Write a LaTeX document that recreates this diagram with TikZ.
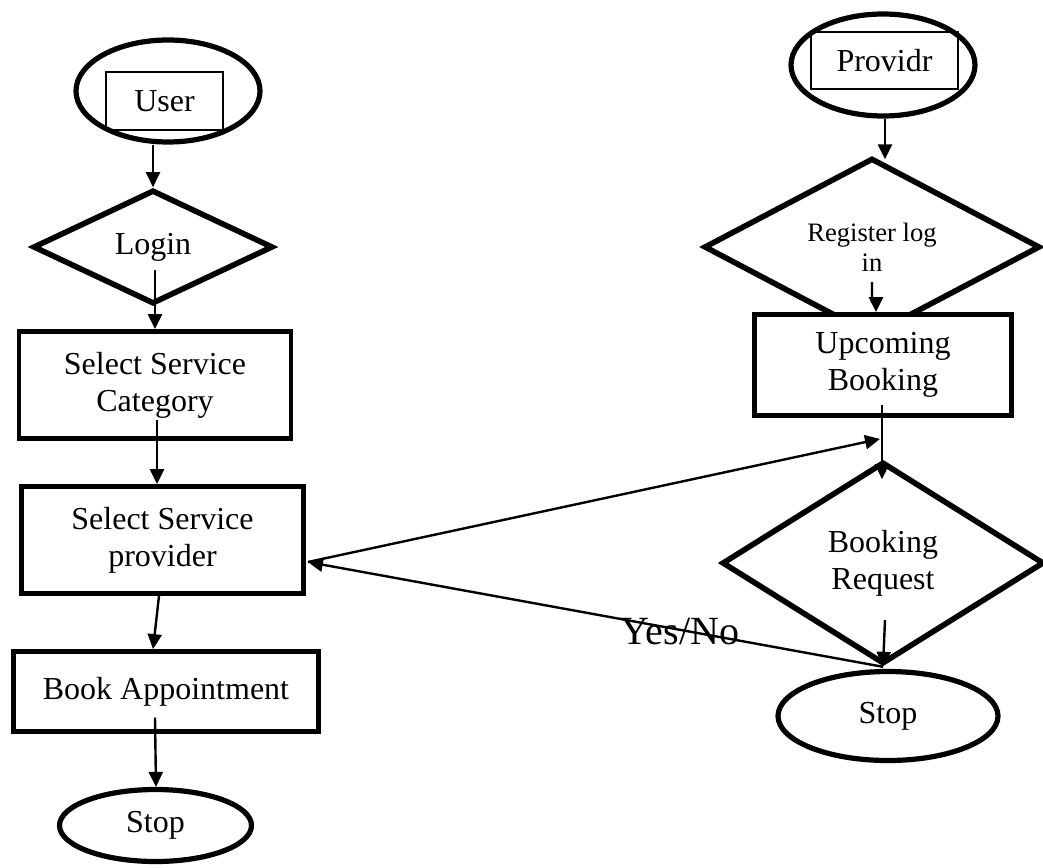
\documentclass[tikz,border=0pt]{standalone}
\usepackage{fontspec}
\setmainfont{Liberation Serif}
\usetikzlibrary{shapes.geometric,arrows.meta,calc}

\tikzset{
  txt/.style={font=\fontsize{16}{18.5}\selectfont},
  box/.style={draw, line width=2.4pt, inner sep=0pt, align=center, txt},
  decide/.style={draw, diamond, line width=2.8pt, inner sep=0pt, align=center, txt},
  term/.style={draw, ellipse, line width=2.6pt, inner sep=0pt, txt},
  tag/.style={draw, line width=0.7pt, inner sep=0pt, txt},
  arr/.style={-{Triangle[length=7.5pt,width=7pt]}, line width=1.2pt},
}

\begin{document}
\begin{tikzpicture}[x=0.5pt,y=-0.5pt]
    \useasboundingbox (0,0) rectangle (1043,867);
    % user side
    \node[term, minimum width=92pt, minimum height=51pt] (user) at (168,91) {};
    \node[tag, minimum width=58.5pt, minimum height=29pt] (usertag) at (164.5,101) {User\hspace{6pt}};
    \node[decide, minimum width=120pt, minimum height=57pt] (login) at (153,247) {Login};
    \node[box, minimum width=136pt, minimum height=53.5pt] (category) at (155,385) {Select Service\\Category};
    \node[box, minimum width=141pt, minimum height=53.5pt] (provider) at (162.5,540) {Select Service\\provider};
    \node[box, minimum width=152.5pt, minimum height=40pt] (book) at (166,691.5) {Book Appointment};
    \node[term, minimum width=96pt, minimum height=36pt] (stopL) at (155.5,825.5) {Stop};
    % provider side
    \node[term, minimum width=92pt, minimum height=51pt] (prov) at (883,65) {};
    \node[tag, minimum width=73.5pt, minimum height=28.5pt] (provtag) at (884.5,60.5) {Providr\hspace{3pt}};
    \node[decide, minimum width=168pt, minimum height=77pt, font=\fontsize{13.3}{15}\selectfont] (register) at (872,247) {Register log\\in};
    \node[box, fill=white, minimum width=128.5pt, minimum height=50.5pt] (upcoming) at (883,365) {Upcoming\\Booking};
    \node[decide, minimum width=161pt, minimum height=101pt] (request) at (883,563) {Booking\\Request};
    \node[term, minimum width=110pt, minimum height=44.5pt] (stopR) at (888,716) {Stop};
    \node[inner sep=0pt, font=\fontsize{20}{22}\selectfont] (yesno) at (680,632) {Yes/No};
    \coordinate (link) at ($(upcoming.south)+(-3,21)$);

    \draw[arr] (login.north |- user.south) -- (login.north);
    \draw[arr] ($(login.center)+(2,23)$) -- (category.north);
    \draw[arr] ($(category.center)+(2,35)$) -- ($(provider.north)+(-5.5,0)$);
    \draw[arr] ($(provider.south)+(-3.5,0)$) -- ($(book.north)+(-13,0)$);
    \draw[arr] ($(book.center)+(-11,26)$) -- ($(stopL.north)+(0.5,0)$);

    \draw[arr] ($(prov.south)+(2,0)$) -- ($(prov.south |- register.north)+(2,4)$);
    \draw[arr] ($(register.center)+(0,35)$) -- ++(0,20) -- ++(4,3) -- ($(upcoming.north)+(-7,0)$);
    \draw[arr] ($(upcoming.center)+(-1,40)$) -- ($(request.north)+(-1,20)$);
    \draw[arr] ($(provider.east)+(2,22)$) -- (link);
    \draw[arr] (request.south) -- ($(provider.east)+(2,22)$);
    \draw[arr] ($(request.center)+(2,57)$) -- (request.south);
\end{tikzpicture}
\end{document}
